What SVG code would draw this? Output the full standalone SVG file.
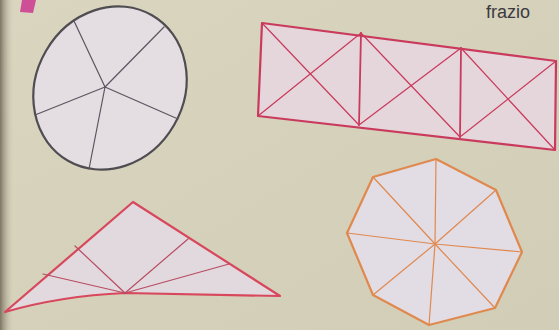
<svg xmlns="http://www.w3.org/2000/svg" width="559" height="330" viewBox="0 0 559 330">
<defs>
<linearGradient id="bg" x1="0" y1="0" x2="1" y2="1">
<stop offset="0" stop-color="#d9d5bf"/>
<stop offset="1" stop-color="#d2cdb6"/>
</linearGradient>
<linearGradient id="edge" x1="0" y1="0" x2="1" y2="0">
<stop offset="0" stop-color="#7d7462"/>
<stop offset="1" stop-color="#d5d1bb" stop-opacity="0"/>
</linearGradient>
</defs>
<style>
.fill{fill:#e4dde2}
.thin{fill:none;stroke-width:1.2;stroke-linecap:round}
.out{stroke-width:2.2;stroke-linejoin:round}
</style>
<rect width="559" height="330" fill="url(#bg)"/>
<rect width="14" height="330" fill="url(#edge)"/>
<polygon points="22,0 36,0 33,13 20,12" fill="#cf4f97"/>
<text x="486" y="18" font-family="Liberation Sans, Arial, sans-serif" font-size="18" fill="#3b3a40">frazio</text>

<g id="circle">
<ellipse cx="110" cy="88" rx="74" ry="84" transform="rotate(30 110 88)" class="fill out" stroke="#4f4d52"/>
<g class="thin" stroke="#5a5660">
<line x1="105" y1="87" x2="74" y2="21"/>
<line x1="105" y1="87" x2="164" y2="27"/>
<line x1="105" y1="87" x2="178" y2="119"/>
<line x1="105" y1="87" x2="89" y2="169"/>
<line x1="105" y1="87" x2="35" y2="115"/>
</g>
</g>

<g id="rectangle">
<polygon points="262,23 556,61 555,150 258,116" fill="#e5d6dc" class="out" stroke="#c93a5c"/>
<g class="thin" stroke="#c93a5c">
<line x1="361" y1="33" x2="359" y2="125" stroke-width="1.8"/>
<line x1="461" y1="48" x2="460" y2="137" stroke-width="1.8"/>
<line x1="262" y1="23" x2="359" y2="125"/>
<line x1="361" y1="33" x2="258" y2="116"/>
<line x1="361" y1="33" x2="460" y2="137"/>
<line x1="461" y1="48" x2="359" y2="125"/>
<line x1="461" y1="48" x2="555" y2="150"/>
<line x1="556" y1="61" x2="460" y2="137"/>
</g>
</g>

<g id="triangle">
<path d="M133,202 L280,296 L125,293 Q60,296 5,312 Z" fill="#e2d9df" class="out" stroke="#d8475c"/>
<g class="thin" stroke="#b84c62">
<line x1="125" y1="293" x2="43" y2="274"/>
<line x1="125" y1="293" x2="75" y2="246"/>
<line x1="125" y1="293" x2="188" y2="239"/>
<line x1="125" y1="293" x2="229" y2="264"/>
</g>
</g>

<g id="octagon">
<polygon points="436,159 496,190 522,252 495,308 429,325 373,295 347,233 373,177" fill="#e2dce4" class="out" stroke="#e0894f"/>
<g class="thin" stroke="#e0894f">
<line x1="435" y1="244" x2="436" y2="159"/>
<line x1="435" y1="244" x2="496" y2="190"/>
<line x1="435" y1="244" x2="522" y2="252"/>
<line x1="435" y1="244" x2="495" y2="308"/>
<line x1="435" y1="244" x2="429" y2="325"/>
<line x1="435" y1="244" x2="373" y2="295"/>
<line x1="435" y1="244" x2="347" y2="233"/>
<line x1="435" y1="244" x2="373" y2="177"/>
</g>
</g>
</svg>
